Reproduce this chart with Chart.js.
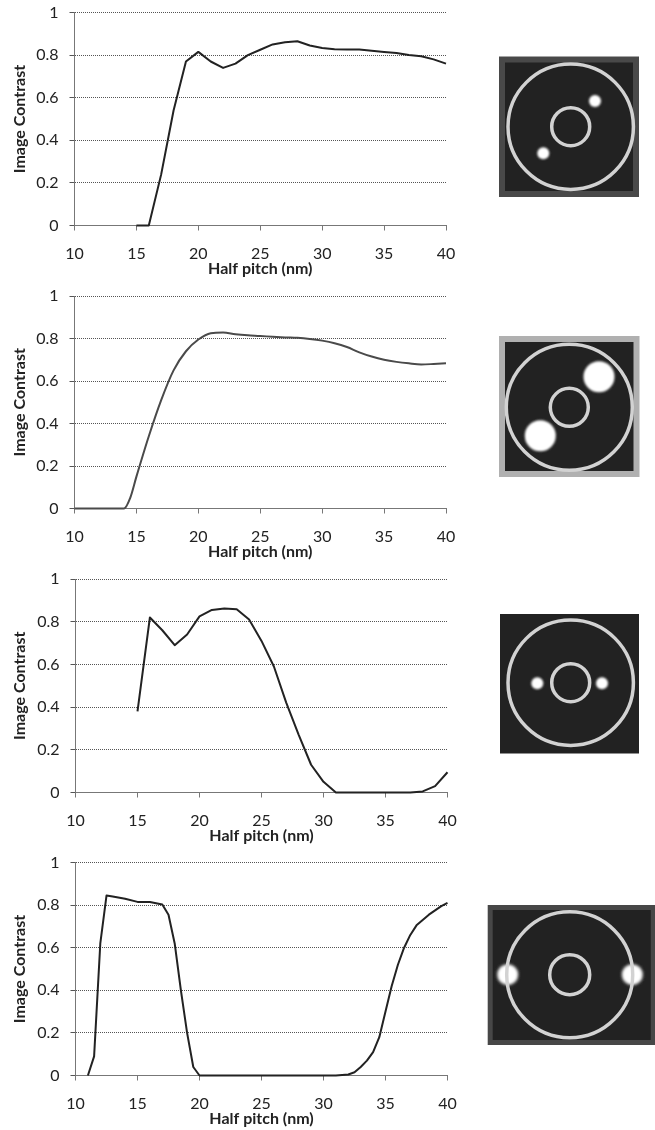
<!DOCTYPE html>
<html>
<head>
<meta charset="utf-8">
<style>
html,body{margin:0;padding:0;background:#fff;}
body{position:relative;width:655px;height:1130px;overflow:hidden;}
canvas{position:absolute;left:0;filter:blur(0.3px);}
#c1{top:0}#c2{top:284px}#c3{top:567px}#c4{top:850px}
svg{position:absolute;left:0;top:0;}
</style>
<script src="https://cdn.jsdelivr.net/npm/chart.js@4"></script>
</head>
<body>
<canvas id="c1" width="470" height="284"></canvas>
<canvas id="c2" width="470" height="283"></canvas>
<canvas id="c3" width="470" height="283"></canvas>
<canvas id="c4" width="470" height="280"></canvas>
<svg width="655" height="1130" xmlns="http://www.w3.org/2000/svg">
<defs>
<filter id="s" x="-5%" y="-5%" width="110%" height="110%"><feGaussianBlur stdDeviation="0.5"/></filter>
<filter id="b" x="-50%" y="-50%" width="200%" height="200%"><feGaussianBlur stdDeviation="1"/></filter>
<filter id="bb" x="-50%" y="-50%" width="200%" height="200%"><feGaussianBlur stdDeviation="1.8"/></filter>
</defs>
<g filter="url(#s)">
<rect x="502" y="59.5" width="134" height="134.5" fill="#222" stroke="#4a4a4a" stroke-width="6"/>
<circle cx="570.7" cy="126.7" r="62.7" fill="none" stroke="#d2d2d2" stroke-width="3.5"/>
<circle cx="570.7" cy="126.7" r="19" fill="none" stroke="#d2d2d2" stroke-width="3.5"/>
<circle cx="595" cy="101" r="6" fill="#fff" filter="url(#b)"/>
<circle cx="543.3" cy="153.3" r="6" fill="#fff" filter="url(#b)"/>
</g>
<g filter="url(#s)">
<rect x="502" y="339" width="134.5" height="135" fill="#222" stroke="#b0b0b0" stroke-width="6"/>
<circle cx="569.3" cy="407.3" r="63" fill="none" stroke="#d2d2d2" stroke-width="3.5"/>
<circle cx="569.3" cy="407.3" r="19" fill="none" stroke="#d2d2d2" stroke-width="3.5"/>
<circle cx="599" cy="376.7" r="15.5" fill="#fff" filter="url(#b)"/>
<circle cx="540.3" cy="435.7" r="15.5" fill="#fff" filter="url(#b)"/>
</g>
<g filter="url(#s)">
<rect x="500" y="614" width="139" height="139.5" fill="#222"/>
<circle cx="570.7" cy="682.7" r="62.7" fill="none" stroke="#d2d2d2" stroke-width="3.5"/>
<circle cx="570.7" cy="682.7" r="19" fill="none" stroke="#d2d2d2" stroke-width="3.5"/>
<circle cx="537.3" cy="683.3" r="6" fill="#fff" filter="url(#b)"/>
<circle cx="602" cy="683.3" r="6" fill="#fff" filter="url(#b)"/>
</g>
<g filter="url(#s)">
<rect x="490.2" y="907.5" width="163" height="135" fill="#222" stroke="#474747" stroke-width="5"/>
<circle cx="507.7" cy="974.7" r="10.5" fill="#fff" filter="url(#bb)"/>
<circle cx="632.3" cy="974.7" r="10.5" fill="#fff" filter="url(#bb)"/>
<circle cx="569.7" cy="974.7" r="63" fill="none" stroke="#d2d2d2" stroke-width="3.5"/>
<circle cx="569.7" cy="974.7" r="20" fill="none" stroke="#d2d2d2" stroke-width="3.5"/>
</g>
</svg>
<script>
const xTickValues = [10, 15, 20, 25, 30, 35, 40];
const yTickValues = [0, 0.2, 0.4, 0.6, 0.8, 1];
const xAxisLabel = 'Half pitch (nm)';
const yAxisLabel = 'Image Contrast';

const pitch1 = [15,16,17,18,19,20,21,22,23,24,25,26,27,28,29,30,31,32,33,34,35,36,37,38,39,40];
const contrast1 = [0,0,0.24,0.54,0.77,0.815,0.77,0.74,0.76,0.8,0.825,0.85,0.86,0.865,0.845,0.833,0.828,0.826,0.826,0.82,0.815,0.81,0.8,0.795,0.78,0.76];

const pitch2 = [10,11,12,13,14,14.5,15,16,17,18,19,20,21,22,23,24,25,26,27,28,29,30,31,32,33,34,35,36,37,38,39,40];
const contrast2 = [0,0,0,0,0,0.05,0.15,0.34,0.51,0.65,0.74,0.795,0.825,0.828,0.82,0.815,0.812,0.808,0.805,0.803,0.798,0.79,0.778,0.76,0.735,0.715,0.7,0.69,0.683,0.678,0.68,0.683];

const pitch3 = [15,16,17,18,19,20,21,22,23,24,25,26,27,28,29,30,31,32,33,34,35,36,37,38,39,40];
const contrast3 = [0.38,0.82,0.76,0.69,0.74,0.825,0.855,0.862,0.858,0.81,0.71,0.59,0.42,0.27,0.13,0.05,0,0,0,0,0,0,0,0.005,0.03,0.095];

const pitch4 = [11,11.5,12,12.5,13,14,15,16,17,17.5,18,18.5,19,19.5,20,25,31,32,32.5,33,33.5,34,34.5,35,35.5,36,36.5,37,37.5,38,38.5,39,39.5,40];
const contrast4 = [0,0.09,0.62,0.845,0.84,0.83,0.815,0.815,0.803,0.755,0.62,0.4,0.2,0.04,0,0,0,0.005,0.015,0.04,0.07,0.11,0.18,0.3,0.42,0.52,0.6,0.66,0.705,0.73,0.755,0.775,0.795,0.81];

const FONT = 'Lato, "Open Sans", sans-serif';
const X_BOX = 53;

function makeChart(id, xs, ys, color, smooth, left, right, top, bottom, canvasH) {
  new Chart(document.getElementById(id), {
    type: 'line',
    data: {
      datasets: [{
        data: xs.map((x, i) => ({x: x, y: ys[i]})),
        borderColor: color,
        borderWidth: 2,
        pointRadius: 0,
        tension: 0,
        cubicInterpolationMode: smooth ? 'monotone' : 'default',
        fill: false,
        clip: false,
        borderJoinStyle: 'round'
      }]
    },
    options: {
      responsive: false,
      animation: false,
      events: [],
      layout: {
        autoPadding: false,
        padding: {left: 0, right: 470 - right, top: top, bottom: canvasH - bottom - X_BOX}
      },
      plugins: {legend: {display: false}, tooltip: {enabled: false}, title: {display: false}},
      scales: {
        x: {
          type: 'linear',
          min: 10, max: 40,
          afterBuildTicks: s => { s.ticks = xTickValues.map(v => ({value: v})); },
          afterFit: s => { s.height = X_BOX; s.paddingLeft = 0; s.paddingRight = 0; },
          border: {color: '#777', dash: [1, 1], width: 1},
          grid: {drawOnChartArea: false, drawTicks: true, tickLength: 5, tickColor: '#777', tickWidth: 1},
          ticks: {padding: 14, maxRotation: 0, autoSkip: false, color: '#222', font: {family: FONT, size: 16}},
          title: {display: true, text: xAxisLabel, color: '#222', padding: {top: 0, bottom: 0}, font: {family: FONT, size: 16, weight: 'bold'}}
        },
        y: {
          min: 0, max: 1,
          afterBuildTicks: s => { s.ticks = yTickValues.map(v => ({value: v})); },
          afterFit: s => { s.width = left; s.paddingTop = 0; s.paddingBottom = 0; },
          border: {color: '#777', dash: [1, 1], width: 1},
          grid: {drawOnChartArea: true, drawTicks: true, tickLength: 5, color: '#555', tickColor: '#555', lineWidth: 1},
          ticks: {padding: 11, color: '#222', font: {family: FONT, size: 16}, callback: v => String(v)},
          title: {display: true, text: yAxisLabel, color: '#222', padding: {top: 10, bottom: 0}, font: {family: FONT, size: 16, weight: 'bold'}}
        }
      }
    }
  });
}

makeChart('c1', pitch1, contrast1, '#222', false, 74.5, 446, 12.5, 225.5, 284);
makeChart('c2', pitch2, contrast2, '#4a4a4a', true, 74.5, 446, 12, 224.5, 283);
makeChart('c3', pitch3, contrast3, '#222', false, 75.5, 447.5, 12, 225.5, 283);
makeChart('c4', pitch4, contrast4, '#222', false, 75.5, 447.5, 12.5, 225.5, 280);
</script>
</body>
</html>
